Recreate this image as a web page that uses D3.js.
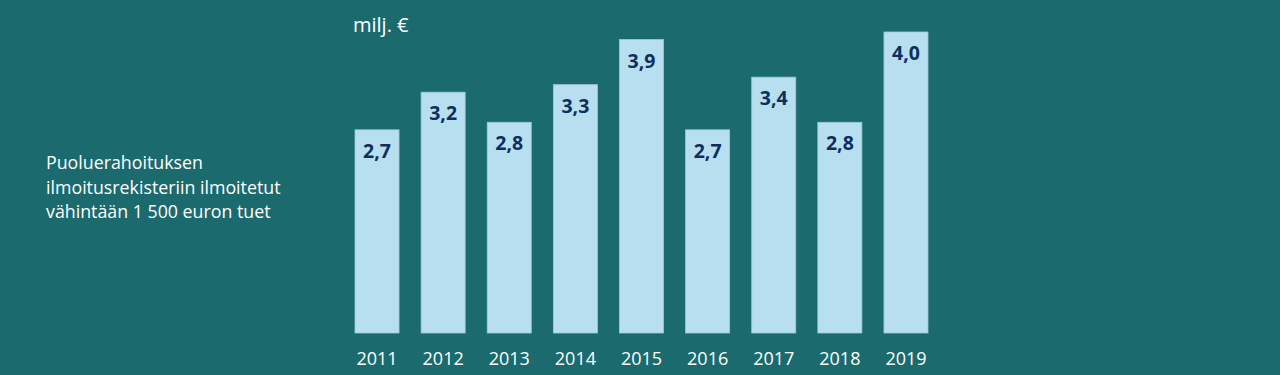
<!DOCTYPE html>
<html><head><meta charset="utf-8">
<script src="https://cdn.jsdelivr.net/npm/d3@7/dist/d3.min.js"></script>
<style>html,body{margin:0;padding:0;background:#1b6a6e;overflow:hidden}</style>
</head><body>
<script>
const years = ["2011","2012","2013","2014","2015","2016","2017","2018","2019"];
const values = [2.7,3.2,2.8,3.3,3.9,2.7,3.4,2.8,4.0];
const unitLabel = "milj. €";
const titleLines = ["Puoluerahoituksen","ilmoitusrekisteriin ilmoitetut","vähintään 1 500 euron tuet"];

const W=1280,H=375;
const svg=d3.select("body").append("svg").attr("width",W).attr("height",H);
svg.append("rect").attr("width",W).attr("height",H).attr("fill","#1b6a6e");
const font="'Open Sans', sans-serif";
const x=d3.scaleBand().domain(years).range([355,928]).paddingInner(0.334).paddingOuter(0);
const y=d3.scaleLinear().domain([0,4]).range([333,32]);

svg.selectAll("rect.bar").data(values).join("rect").attr("class","bar")
 .attr("x",(d,i)=>x(years[i])).attr("y",d=>y(d))
 .attr("width",x.bandwidth()).attr("height",d=>y(0)-y(d))
 .attr("fill","#b7dff0").attr("stroke","#9fc9dc").attr("stroke-width",0.8);

svg.selectAll("text.val").data(values).join("text").attr("class","val")
 .attr("x",(d,i)=>x(years[i])+x.bandwidth()/2).attr("y",d=>y(d)+28)
 .attr("text-anchor","middle").attr("font-family",font).attr("font-weight",700)
 .attr("font-size",19.5).attr("fill","#0d2f5e")
 .text(d=>d3.format(".1f")(d).replace(".",","));

const ax=svg.append("g").attr("transform","translate(0,333)")
 .call(d3.axisBottom(x).tickSize(0).tickPadding(0));
ax.select(".domain").remove();
ax.selectAll("text").attr("y",32).attr("dy",0).attr("font-family",font).attr("font-size",18).attr("fill","#fff");

svg.append("text").attr("x",353).attr("y",32).attr("font-family",font).attr("font-size",20).attr("fill","#fff").text(unitLabel);

svg.append("g").selectAll("text").data(titleLines).join("text")
 .attr("x",46).attr("y",(d,i)=>169+i*24.5).attr("font-family",font).attr("font-size",17.8).attr("fill","#fff").text(d=>d);
</script>
</body></html>
